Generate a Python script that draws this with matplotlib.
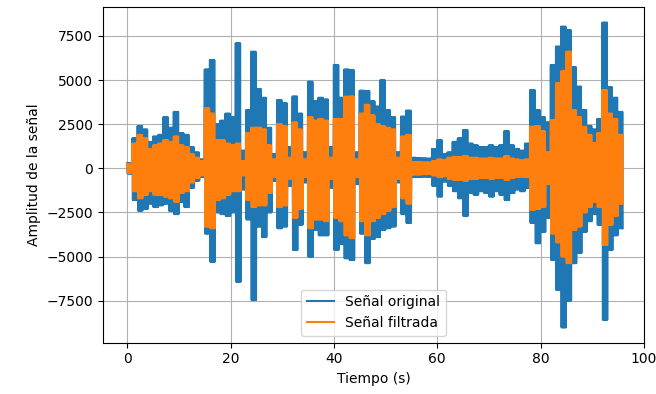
import numpy as np
import matplotlib
matplotlib.use("Agg")
import matplotlib.pyplot as plt

# envelope of each second of audio (t = 0..95 s)
seconds = np.arange(96)
orig_upper = [300, 1700, 2400, 2200, 1500, 1800, 1900, 2900, 2300, 3200,
              2000, 1900, 1200, 900, 500, 5600, 6140, 2500, 2700, 3100,
              2900, 7090, 1000, 3300, 6610, 4500, 4000, 2300, 800, 3870,
              3700, 1200, 4070, 3100, 900, 4910, 3800, 4000, 3900, 1200,
              5860, 4000, 5600, 5560, 900, 4400, 4380, 3800, 3500, 5000,
              3300, 2900, 900, 2930, 3270, 600, 570, 560, 550, 1100,
              1600, 800, 900, 1500, 1700, 2170, 1400, 1300, 1200, 1200,
              1300, 1200, 1300, 2100, 1300, 1100, 1000, 1400, 4440, 3300,
              2900, 2600, 5860, 6900, 8030, 7840, 5740, 4630, 3300, 2400,
              2200, 2800, 8260, 4600, 4000, 3200]
orig_lower = [-300, -1800, -2400, -2300, -2000, -2200, -2100, -2000, -2400, -2600,
              -1900, -2200, -1100, -700, -500, -3700, -5300, -2500, -2600, -2700,
              -2500, -6430, -1200, -2900, -7470, -3300, -3900, -2500, -700, -3400,
              -3300, -1000, -4630, -3200, -800, -5010, -3500, -3800, -3800, -1100,
              -4620, -4300, -5100, -5200, -900, -3700, -5380, -4000, -3900, -3500,
              -3400, -3300, -800, -2600, -3100, -500, -480, -470, -480, -1000,
              -1600, -750, -1000, -1300, -1700, -2700, -1400, -1500, -1300, -1400,
              -1600, -1300, -1500, -1800, -1400, -1200, -1300, -1100, -3100, -4250,
              -3600, -2800, -5200, -6900, -9020, -7500, -5380, -4800, -3600, -3000,
              -2600, -3200, -8590, -4630, -3800, -3400]
filt_upper = [250, 1400, 1900, 1700, 1100, 1300, 1400, 1600, 1500, 1800,
              1300, 1200, 800, 600, 400, 3400, 3100, 1600, 1600, 1400,
              1300, 1400, 400, 2000, 2300, 2300, 2200, 1300, 500, 2500,
              2400, 600, 2600, 2200, 500, 2900, 2700, 2800, 2700, 600,
              2800, 2800, 4060, 4070, 500, 3100, 3600, 3000, 2500, 2400,
              2300, 2200, 600, 1800, 1900, 350, 350, 330, 330, 400,
              500, 450, 600, 650, 650, 700, 600, 600, 550, 550,
              600, 550, 550, 700, 550, 500, 470, 500, 2360, 2400,
              2100, 900, 2740, 4820, 5500, 6610, 3300, 2900, 2350, 1900,
              1430, 2000, 4440, 3100, 2800, 1900]
filt_lower = [-250, -1300, -1700, -1500, -1300, -1500, -1500, -1600, -1700, -1900,
              -1400, -1300, -800, -550, -400, -3300, -3400, -1800, -1700, -1500,
              -1300, -1300, -400, -1800, -2200, -2100, -2100, -1400, -500, -2200,
              -2100, -600, -2800, -2300, -500, -3400, -2900, -2900, -3000, -600,
              -2800, -3000, -3800, -3960, -500, -3000, -3800, -3000, -2800, -2600,
              -2400, -2200, -600, -1700, -2000, -350, -350, -330, -330, -400,
              -500, -450, -600, -650, -650, -700, -600, -600, -550, -550,
              -600, -550, -550, -650, -550, -500, -470, -500, -2360, -2300,
              -2200, -900, -3700, -4200, -5000, -5380, -3500, -3300, -2500, -2200,
              -1900, -2200, -4350, -3200, -2700, -2000]


def zigzag(upper, lower, reps=6):
    # alternate the read peaks so the trace swings between them like the audio does
    t, y = [], []
    step = 1.0 / (2 * reps)
    for s, u, l in zip(seconds, upper, lower):
        for k in range(reps):
            t += [s + 2 * k * step, s + (2 * k + 1) * step]
            y += [u, l]
    return np.array(t), np.array(y)


fig = plt.figure(figsize=(6.56, 3.94), dpi=100)
ax = fig.add_axes([0.1566, 0.1302, 0.8256, 0.8513])

t_o, y_o = zigzag(orig_upper, orig_lower)
t_f, y_f = zigzag(filt_upper, filt_lower)
ax.plot(t_o, y_o, color="tab:blue", lw=1.5, label="Señal original")
ax.plot(t_f, y_f, color="tab:orange", lw=1.5, label="Señal filtrada")

ax.set_xlim(-4.76, 100.1)
ax.set_ylim(-9886, 9127)
ax.set_xticks([0, 20, 40, 60, 80, 100])
ax.set_yticks([-7500, -5000, -2500, 0, 2500, 5000, 7500])
ax.set_xlabel("Tiempo (s)")
ax.set_ylabel("Amplitud de la señal")
ax.grid(True)
ax.legend(loc="lower center")

fig.savefig("out.png", dpi=100)
